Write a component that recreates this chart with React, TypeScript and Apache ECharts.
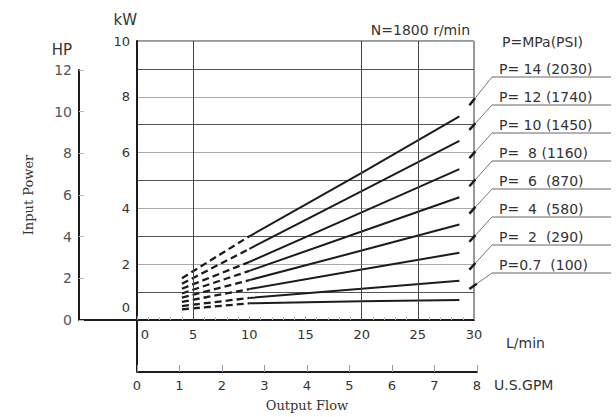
import React, { useEffect, useRef } from 'react';
import * as echarts from 'echarts';

// ---- data ----
const legendLabels = [
  'P= 14 (2030)',
  'P= 12 (1740)',
  'P= 10 (1450)',
  'P=  8 (1160)',
  'P=  6  (870)',
  'P=  4  (580)',
  'P=  2  (290)',
  'P=0.7  (100)',
];
const legendHeader = 'P=MPa(PSI)';
const dashedFlows = [4, 10];
const solidFlows = [10, 20, 28.7];
const dashedPower = [
  [1.5, 3.0],
  [1.3, 2.55],
  [1.12, 2.08],
  [0.95, 1.76],
  [0.8, 1.43],
  [0.65, 1.11],
  [0.5, 0.79],
  [0.38, 0.6],
];
const solidPower = [
  [3.0, 5.27, 7.3],
  [2.55, 4.62, 6.42],
  [2.08, 3.86, 5.41],
  [1.76, 3.17, 4.4],
  [1.43, 2.49, 3.42],
  [1.11, 1.81, 2.41],
  [0.79, 1.12, 1.41],
  [0.6, 0.67, 0.72],
];
const flowGridLines = [5, 20, 25];

const SANS = 'DejaVu Sans';
const SERIF = 'DejaVu Serif';
const INK = '#1c1c1c';

export default function App() {
  const ref = useRef<HTMLDivElement>(null);
  useEffect(() => {
    if (!ref.current) return;
    const chart = echarts.init(ref.current, null, { renderer: 'svg' });
    const labelStyle = { fontFamily: SANS, fontSize: 13, color: '#333' };
    const series: any[] = [];
    dashedPower.forEach((vals) => {
      series.push({
        type: 'line',
        xAxisIndex: 0,
        yAxisIndex: 0,
        symbol: 'none',
        data: dashedFlows.map((f, j) => [f, vals[j]]),
        lineStyle: { color: INK, width: 2.3, type: [7, 4] },
        silent: true,
      });
    });
    const solidStart = series.length;
    solidPower.forEach((vals, i) => {
      series.push({
        type: 'line',
        xAxisIndex: 0,
        yAxisIndex: 0,
        symbol: 'none',
        data: solidFlows.map((f, j) => [f, vals[j]]),
        lineStyle: { color: INK, width: 2 },
        silent: true,
        markLine:
          i === 0
            ? {
                silent: true,
                symbol: 'none',
                label: { show: false },
                lineStyle: { color: '#444', width: 1, type: 'solid' },
                data: flowGridLines.map((v) => ({ xAxis: v })),
              }
            : undefined,
      });
    });

    const option: any = {
      animation: false,
      grid: [
        { left: 137, top: 41, width: 337, height: 279, show: true, borderColor: '#333', borderWidth: 1 },
        { left: 137, top: 371, width: 340, height: 1 },
        { left: 79, top: 70, width: 1, height: 250 },
      ],
      xAxis: [
        {
          gridIndex: 0,
          type: 'value',
          min: 0,
          max: 30,
          interval: 5,
          axisLine: { show: true, lineStyle: { color: INK, width: 2 } },
          axisTick: { show: true, inside: true, length: 4, lineStyle: { color: '#999' } },
          minorTick: { show: true, splitNumber: 5, length: 3, lineStyle: { color: '#bbb' } },
          splitLine: { show: false },
          axisLabel: {
            ...labelStyle,
            margin: 8,
            formatter: (v: number) => (v === 0 ? '{a|0}' : String(v)),
            rich: { a: { ...labelStyle, padding: [0, 0, 0, 16] } },
          },
        },
        {
          gridIndex: 1,
          type: 'value',
          min: 0,
          max: 8,
          interval: 1,
          position: 'bottom',
          axisLine: { show: true, lineStyle: { color: INK, width: 2 } },
          axisTick: { show: true, inside: true, length: 7, lineStyle: { color: '#999' } },
          splitLine: { show: false },
          axisLabel: { ...labelStyle, margin: 7 },
          name: 'Output Flow',
          nameLocation: 'middle',
          nameGap: 27,
          nameTextStyle: { fontFamily: SERIF, fontSize: 13, color: '#333' },
        },
        { gridIndex: 2, type: 'value', min: 0, max: 1, show: false },
      ],
      yAxis: [
        {
          gridIndex: 0,
          type: 'value',
          min: 0,
          max: 10,
          interval: 1,
          axisLine: { show: true, lineStyle: { color: INK, width: 2 } },
          axisTick: { show: false },
          splitLine: { show: true, lineStyle: { color: ['#aaa', '#555'], width: 1 } },
          axisLabel: {
            ...labelStyle,
            margin: 7,
            formatter: (v: number) => (v === 0 ? '{z|0}' : v % 2 === 0 ? String(v) : ''),
            rich: { z: { ...labelStyle, padding: [0, 0, 26, 0] } },
          },
          name: 'kW',
          nameLocation: 'end',
          nameGap: 14,
          nameTextStyle: { fontFamily: SANS, fontSize: 15, color: '#333', align: 'right' },
        },
        { gridIndex: 1, type: 'value', min: 0, max: 1, show: false },
        {
          gridIndex: 2,
          type: 'value',
          min: 0,
          max: 12,
          interval: 2,
          axisLine: { show: true, lineStyle: { color: INK, width: 2 } },
          axisTick: { show: true, inside: true, length: 5, lineStyle: { color: '#bbb' } },
          splitLine: { show: false },
          axisLabel: { ...labelStyle, color: '#555', fontSize: 14, margin: 7 },
          name: 'Input Power',
          nameLocation: 'middle',
          nameGap: 44,
          nameTextStyle: { fontFamily: SERIF, fontSize: 13, color: '#333' },
        },
      ],
      series,
    };
    chart.setOption(option);

    const graphic: any[] = [];
    graphic.push({ type: 'line', shape: { x1: 79, y1: 320, x2: 137, y2: 320 }, style: { stroke: INK, lineWidth: 2 } });
    graphic.push({ type: 'line', shape: { x1: 137, y1: 320, x2: 137, y2: 372 }, style: { stroke: INK, lineWidth: 2 } });
    const txt = (text: string, x: number, y: number, extra: any = {}) => ({
      type: 'text',
      x,
      y,
      style: { text, fill: '#333', font: `14px "${SANS}"`, align: 'left', verticalAlign: 'middle', ...extra },
    });
    graphic.push(txt('HP', 72, 50, { align: 'right', font: `15px "${SANS}"` }));
    graphic.push(txt('N=1800 r/min', 470, 30, { align: 'right' }));
    graphic.push(txt('L/min', 506, 343));
    graphic.push(txt('U.S.GPM', 494, 385));
    graphic.push(txt(legendHeader, 502, 42, { font: `14px "${SANS}"` }));

    legendLabels.forEach((lab, i) => {
      const cy = 69 + i * 28;
      const uy = cy + 8;
      graphic.push(txt(lab, 499, cy, { font: `14px "${SANS}"` }));
      graphic.push({ type: 'line', shape: { x1: 492, y1: uy, x2: 611, y2: uy }, style: { stroke: '#666', lineWidth: 1 } });
      const vals = solidPower[i];
      const end = chart.convertToPixel({ seriesIndex: solidStart + i }, [solidFlows[solidFlows.length - 1], vals[vals.length - 1]]) as number[];
      const tx = end[0] + 10;
      const ty = end[1] - 11;
      const dx = 492 - tx;
      const dy = uy - ty;
      const len = Math.sqrt(dx * dx + dy * dy);
      const ax = tx + (dx / len) * 9;
      const ay = ty + (dy / len) * 9;
      graphic.push({ type: 'line', shape: { x1: 492, y1: uy, x2: tx, y2: ty }, style: { stroke: '#777', lineWidth: 1 } });
      graphic.push({ type: 'line', shape: { x1: ax, y1: ay, x2: tx, y2: ty }, style: { stroke: INK, lineWidth: 2.5 } });
    });
    chart.setOption({ graphic });

    return () => chart.dispose();
  }, []);
  return <div ref={ref} style={{ position: 'absolute', left: 0, top: 0, width: 616, height: 417 }} />;
}
